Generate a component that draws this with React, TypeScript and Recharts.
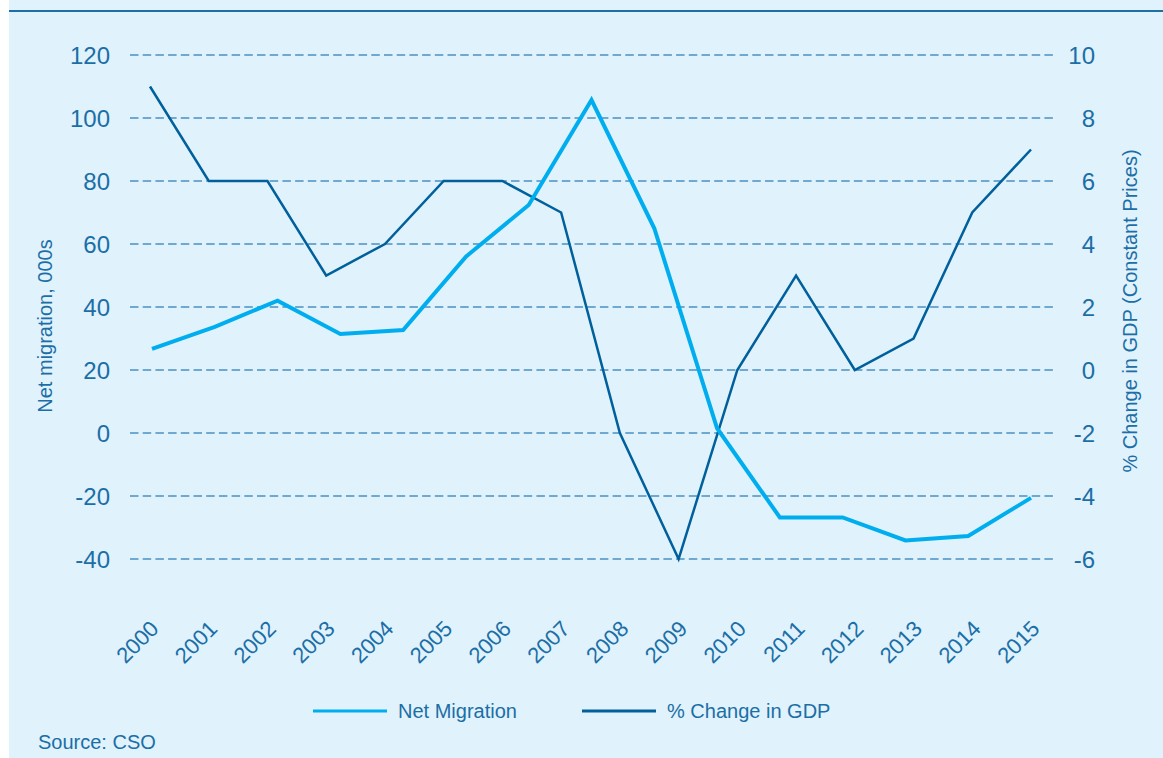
import { LineChart, Line, XAxis, YAxis, CartesianGrid, Legend } from "recharts";

const years = [
  "2000", "2001", "2002", "2003", "2004", "2005", "2006", "2007",
  "2008", "2009", "2010", "2011", "2012", "2013", "2014", "2015",
];
// % change in GDP (constant prices), one value per year
const gdpChange = [9, 6, 6, 3, 4, 6, 6, 5, -2, -6, 0, 3, 0, 1, 5, 7];
// net migration (000s) - the source plots 15 evenly spaced points across the same span
const netMigration = [
  26.7, 33.7, 42.0, 31.4, 32.7, 56.0, 72.4, 105.7, 65.0, 1.5, -26.8, -26.8, -34.1, -32.7, -20.6,
];
const leftTicks = [-40, -20, 0, 20, 40, 60, 80, 100, 120];
const rightTicks = [-6, -4, -2, 0, 2, 4, 6, 8, 10];

const gdpData = years.map((year, i) => ({ year, gdp: gdpChange[i] }));
const migrationData = netMigration.map((value, step) => ({ step, value }));

const FONT = "'Liberation Sans', Arial, sans-serif";
const TEXT = "#1b6ea6";
const LIGHT = "#00aeef";
const DARK = "#00609c";

const YearTick = (props: any) => {
  const { x, y, payload } = props;
  const ax = x + 10;
  const ay = y + 33;
  return (
    <text
      x={ax}
      y={ay}
      transform={`rotate(-45, ${ax}, ${ay})`}
      textAnchor="end"
      fill={TEXT}
      fontSize={22}
      fontFamily={FONT}
    >
      {payload.value}
    </text>
  );
};

const RightTick = (props: any) => {
  const { x, y, payload } = props;
  return (
    <text x={x + 42} y={y} dy="0.355em" textAnchor="end" fill={TEXT} fontSize={24} fontFamily={FONT}>
      {payload.value}
    </text>
  );
};

const legendOrder = ["Net Migration", "% Change in GDP"];
const legendSlots = [
  { line: 313, text: 398 },
  { line: 582, text: 667 },
];

const renderLegend = (props: any) => {
  const items = (props.payload || []).filter((p: any) => legendOrder.includes(p.value));
  return (
    <svg width={1163} height={30}>
      {items.map((item: any) => {
        const s = legendSlots[legendOrder.indexOf(item.value)];
        return (
          <g key={item.value}>
            <line x1={s.line} x2={s.line + 74} y1={15} y2={15} stroke={item.color} strokeWidth={3} />
            <text x={s.text} y={22} fill={TEXT} fontSize={20} fontFamily={FONT}>
              {item.value}
            </text>
          </g>
        );
      })}
    </svg>
  );
};

export default function App() {
  return (
    <div style={{ position: "absolute", left: 0, top: 0, width: 1163, height: 758, background: "#fff" }}>
      <div style={{ position: "absolute", left: 9, top: 0, width: 1154, height: 758, background: "#e0f2fc" }} />
      <div style={{ position: "absolute", left: 9, top: 10, width: 1154, height: 2, background: "#1f6fa6" }} />
      <div style={{ position: "absolute", left: 0, top: 0 }}>
        <LineChart
          width={1163}
          height={758}
          data={gdpData}
          margin={{ top: 55, right: 0, left: 10, bottom: 119 }}
        >
          <CartesianGrid
            vertical={false}
            yAxisId="left"
            xAxisId="year"
            stroke="#4a90c2"
            strokeWidth={1.5}
            strokeDasharray="8.5 4.2"
          />
          <XAxis
            xAxisId="year"
            dataKey="year"
            interval={0}
            padding={{ left: 20, right: 22 }}
            axisLine={false}
            tickLine={false}
            height={80}
            tick={<YearTick />}
          />
          <XAxis
            xAxisId="step"
            dataKey="step"
            type="category"
            hide
            padding={{ left: 22, right: 22 }}
          />
          <YAxis
            yAxisId="left"
            domain={[-40, 120]}
            ticks={leftTicks}
            width={120}
            axisLine={false}
            tickLine={false}
            tickSize={0}
            tickMargin={20}
            tick={{ fill: TEXT, fontSize: 24, fontFamily: FONT }}
            label={(p: any) => {
              const vb = p.viewBox;
              const cx = vb.x + 35;
              const cy = vb.y + vb.height / 2 + 19;
              return (
                <text
                  x={cx}
                  y={cy}
                  transform={`rotate(-90, ${cx}, ${cy})`}
                  textAnchor="middle"
                  dy="0.355em"
                  fill={TEXT}
                  fontSize={20}
                  fontFamily={FONT}
                >
                  Net migration, 000s
                </text>
              );
            }}
          />
          <YAxis
            yAxisId="right"
            orientation="right"
            domain={[-6, 10]}
            ticks={rightTicks}
            width={110}
            axisLine={false}
            tickLine={false}
            tickSize={0}
            tickMargin={0}
            tick={<RightTick />}
            label={(p: any) => {
              const vb = p.viewBox;
              const cx = vb.x + 77;
              const cy = vb.y + vb.height / 2 + 4;
              return (
                <text
                  x={cx}
                  y={cy}
                  transform={`rotate(-90, ${cx}, ${cy})`}
                  textAnchor="middle"
                  dy="0.355em"
                  fill={TEXT}
                  fontSize={20}
                  fontFamily={FONT}
                >
                  % Change in GDP (Constant Prices)
                </text>
              );
            }}
          />
          <Line
            name="% Change in GDP"
            xAxisId="year"
            yAxisId="right"
            dataKey="gdp"
            stroke={DARK}
            strokeWidth={2.5}
            dot={false}
            activeDot={false}
            isAnimationActive={false}
          />
          <Line
            name="Net Migration"
            data={migrationData}
            xAxisId="step"
            yAxisId="left"
            dataKey="value"
            stroke={LIGHT}
            strokeWidth={4}
            dot={false}
            activeDot={false}
            isAnimationActive={false}
          />
          <Legend
            layout="horizontal"
            verticalAlign="middle"
            content={renderLegend}
            wrapperStyle={{ position: "absolute", left: 0, top: 696, width: 1163, height: 30 }}
          />
        </LineChart>
      </div>
      <div
        style={{
          position: "absolute",
          left: 38,
          top: 730,
          fontSize: 20,
          lineHeight: "24px",
          fontFamily: FONT,
          color: TEXT,
        }}
      >
        Source: CSO
      </div>
    </div>
  );
}
